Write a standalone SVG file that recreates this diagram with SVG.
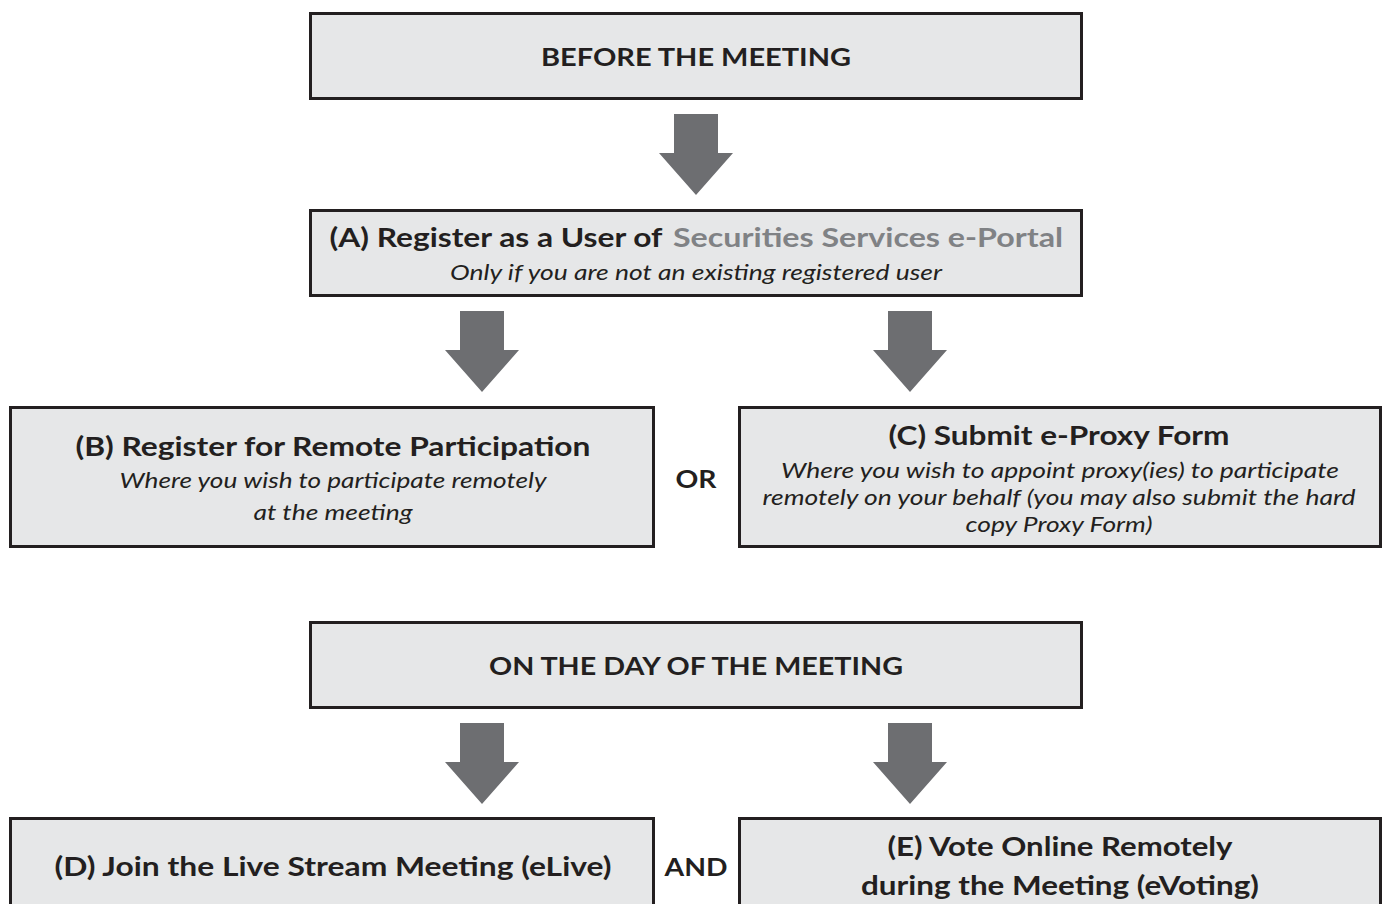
<svg xmlns="http://www.w3.org/2000/svg" width="1388" height="904" viewBox="0 0 1388 904">
  <defs>
    <style>
      .box { fill: #e6e7e8; stroke: #231f20; stroke-width: 3; }
      .arrow { fill: #6d6e71; }
      .t { font-family: Lato, "Noto Sans", "Liberation Sans", sans-serif; fill: #231f20; text-anchor: middle; }
      .h { font-weight: 700; font-size: 26px; }
      .cap { font-weight: 700; font-size: 25px; }
      .sub { font-style: italic; font-size: 21px; font-weight: 400; }
      .grey { fill: #808285; }
    </style>
    <!-- block arrow pointing down, origin at top centre of shaft -->
    <polygon id="down" points="-22,0 22,0 22,39 37,39 0,81 -37,39 -22,39"/>
  </defs>
  <rect width="1388" height="904" fill="#ffffff"/>

  <g id="connectors">
    <use href="#down" class="arrow" x="696" y="114"/>
    <use href="#down" class="arrow" x="482" y="311"/>
    <use href="#down" class="arrow" x="910" y="311"/>
    <use href="#down" class="arrow" x="482" y="723"/>
    <use href="#down" class="arrow" x="910" y="723"/>
  </g>

  <g id="before">
    <rect class="box" x="310.5" y="13.5" width="771" height="85"/>
    <text class="t cap" x="696" y="66" textLength="310" lengthAdjust="spacingAndGlyphs">BEFORE THE MEETING</text>
  </g>

  <g id="nodeA">
    <rect class="box" x="310.5" y="210.5" width="771" height="85"/>
    <text class="t h" x="496" y="247" textLength="333" lengthAdjust="spacingAndGlyphs">(A) Register as a User of</text>
    <text class="t h grey" x="868" y="247" textLength="390" lengthAdjust="spacingAndGlyphs">Securities Services e-Portal</text>
    <text class="t sub" x="696" y="280" textLength="492" lengthAdjust="spacingAndGlyphs">Only if you are not an existing registered user</text>
  </g>

  <g id="nodeB">
    <rect class="box" x="10.5" y="407.5" width="643" height="139"/>
    <text class="t h" x="333" y="456" textLength="515" lengthAdjust="spacingAndGlyphs">(B) Register for Remote Participation</text>
    <text class="t sub" x="333" y="488" textLength="427" lengthAdjust="spacingAndGlyphs">Where you wish to participate remotely</text>
    <text class="t sub" x="333" y="520" textLength="159" lengthAdjust="spacingAndGlyphs">at the meeting</text>
  </g>

  <g id="or">
    <text class="t cap" x="696" y="488" textLength="41" lengthAdjust="spacingAndGlyphs">OR</text>
  </g>

  <g id="nodeC">
    <rect class="box" x="739.5" y="407.5" width="641" height="139"/>
    <text class="t h" x="1059" y="445" textLength="341" lengthAdjust="spacingAndGlyphs">(C) Submit e-Proxy Form</text>
    <text class="t sub" x="1060" y="478" textLength="558" lengthAdjust="spacingAndGlyphs">Where you wish to appoint proxy(ies) to participate</text>
    <text class="t sub" x="1059" y="505" textLength="593" lengthAdjust="spacingAndGlyphs">remotely on your behalf (you may also submit the hard</text>
    <text class="t sub" x="1059" y="532" textLength="187" lengthAdjust="spacingAndGlyphs">copy Proxy Form)</text>
  </g>

  <g id="dayOf">
    <rect class="box" x="310.5" y="622.5" width="771" height="85"/>
    <text class="t cap" x="696" y="675" textLength="414" lengthAdjust="spacingAndGlyphs">ON THE DAY OF THE MEETING</text>
  </g>

  <g id="nodeD">
    <rect class="box" x="10.5" y="818.5" width="643" height="100"/>
    <text class="t h" x="333" y="876" textLength="557" lengthAdjust="spacingAndGlyphs">(D) Join the Live Stream Meeting (eLive)</text>
  </g>

  <g id="and">
    <text class="t cap" x="696" y="876" textLength="63" lengthAdjust="spacingAndGlyphs">AND</text>
  </g>

  <g id="nodeE">
    <rect class="box" x="739.5" y="818.5" width="641" height="100"/>
    <text class="t h" x="1060" y="856" textLength="345" lengthAdjust="spacingAndGlyphs">(E) Vote Online Remotely</text>
    <text class="t h" x="1060" y="895" textLength="398" lengthAdjust="spacingAndGlyphs">during the Meeting (eVoting)</text>
  </g>
</svg>
